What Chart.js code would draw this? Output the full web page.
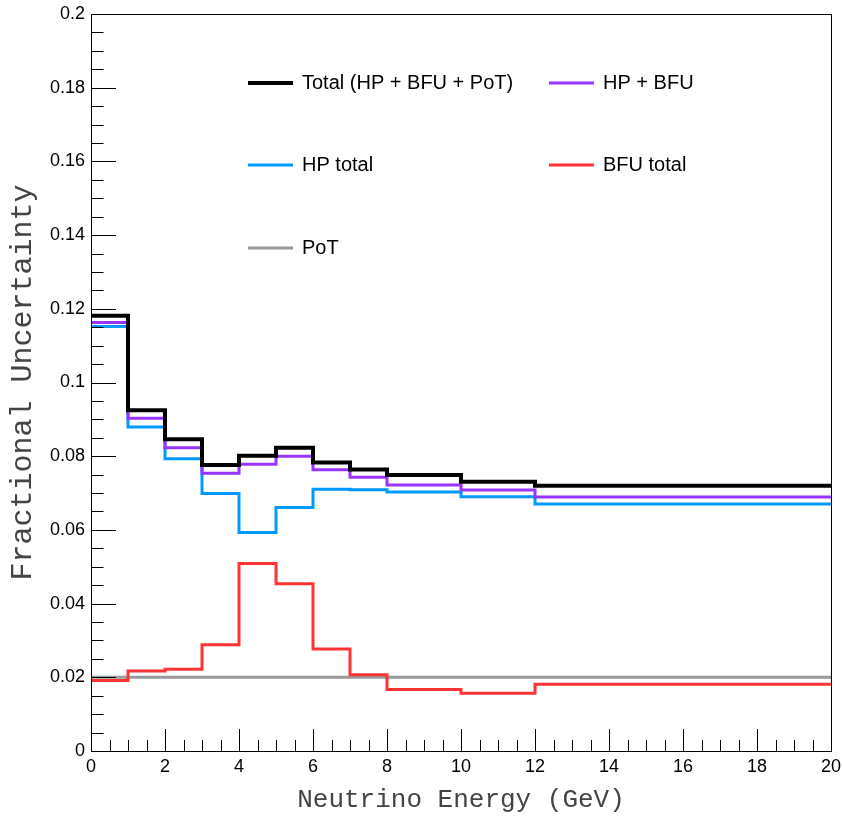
<!DOCTYPE html>
<html>
<head>
<meta charset="utf-8">
<script src="https://cdn.jsdelivr.net/npm/chart.js@4"></script>
<style>
  html, body { margin: 0; padding: 0; background: #fff; }
  #wrap { width: 842px; height: 816px; }
</style>
</head>
<body>
<div id="wrap"><canvas id="c" width="842" height="816"></canvas></div>
<script>
// Bin edges in GeV (last bin is 12-20 GeV)
const binEdges = [0, 1, 2, 3, 4, 5, 6, 7, 8, 10, 12, 20];

// Fractional uncertainty per bin
const totalUnc = [0.1181, 0.0925, 0.0846, 0.0776, 0.0801, 0.0823, 0.0783, 0.0764, 0.0749, 0.0731, 0.0720];
const hpBfuUnc = [0.1163, 0.0903, 0.0823, 0.0754, 0.0778, 0.0800, 0.0763, 0.0743, 0.0722, 0.0708, 0.0689];
const hpUnc    = [0.1152, 0.0879, 0.0793, 0.0699, 0.0593, 0.0661, 0.0710, 0.0709, 0.0703, 0.0690, 0.0670];
const bfuUnc   = [0.0191, 0.0217, 0.0222, 0.0288, 0.0509, 0.0454, 0.0277, 0.0207, 0.0167, 0.0157, 0.0181];
const potUnc   = [0.0200, 0.0200, 0.0200, 0.0200, 0.0200, 0.0200, 0.0200, 0.0200, 0.0200, 0.0200, 0.0200];

// Axis tick labels
const xTicks = [0, 2, 4, 6, 8, 10, 12, 14, 16, 18, 20];
const yTicks = [0, 0.02, 0.04, 0.06, 0.08, 0.1, 0.12, 0.14, 0.16, 0.18, 0.2];

// Histogram outline: each bin's value held from its left edge to the next edge
function histPoints(vals) {
  return binEdges.map((e, i) => ({ x: e, y: vals[Math.min(i, vals.length - 1)] }));
}

function series(label, vals, color, width) {
  return {
    label: label,
    data: histPoints(vals),
    borderColor: color,
    backgroundColor: color,
    borderWidth: width,
    stepped: true,
    pointRadius: 0,
    fill: false,
    borderJoinStyle: 'miter',
    borderCapStyle: 'butt'
  };
}

const SANS = "'Liberation Sans', Arial, Helvetica, sans-serif";
const MONO = "'Liberation Mono', 'Courier New', monospace";

// Frame around the plot plus inward-pointing major/minor ticks
const framePlugin = {
  id: 'frameTicks',
  afterDatasetsDraw(chart) {
    const { ctx, chartArea: a, scales: { x, y } } = chart;
    ctx.save();
    ctx.strokeStyle = '#000';
    ctx.lineWidth = 1;
    ctx.strokeRect(Math.round(a.left) + 0.5, Math.round(a.top) + 0.5,
                   Math.round(a.right - a.left), Math.round(a.bottom - a.top));
    ctx.beginPath();
    // x axis: major ticks at labels, 3 minor ticks between
    for (let i = 0; i < xTicks.length; i++) {
      const px = Math.round(x.getPixelForValue(xTicks[i])) + 0.5;
      ctx.moveTo(px, a.bottom); ctx.lineTo(px, a.bottom - 22);
      if (i < xTicks.length - 1) {
        const step = (xTicks[i + 1] - xTicks[i]) / 4;
        for (let k = 1; k < 4; k++) {
          const mx = Math.round(x.getPixelForValue(xTicks[i] + k * step)) + 0.5;
          ctx.moveTo(mx, a.bottom); ctx.lineTo(mx, a.bottom - 11);
        }
      }
    }
    // y axis
    for (let i = 0; i < yTicks.length; i++) {
      const py = Math.round(y.getPixelForValue(yTicks[i])) + 0.5;
      ctx.moveTo(a.left, py); ctx.lineTo(a.left + 25, py);
      if (i < yTicks.length - 1) {
        const step = (yTicks[i + 1] - yTicks[i]) / 4;
        for (let k = 1; k < 4; k++) {
          const my = Math.round(y.getPixelForValue(yTicks[i] + k * step)) + 0.5;
          ctx.moveTo(a.left, my); ctx.lineTo(a.left + 12.5, my);
        }
      }
    }
    ctx.stroke();
    ctx.restore();
  }
};

// Two-column legend drawn inside the plot
const legendPlugin = {
  id: 'insideLegend',
  afterDraw(chart) {
    const { ctx } = chart;
    const slots = [
      [248, 83], [549, 83],
      [248, 165], [549, 165],
      [248, 248]
    ];
    ctx.save();
    ctx.font = '20px ' + SANS;
    ctx.textBaseline = 'middle';
    ctx.textAlign = 'left';
    chart.data.datasets.forEach((ds, i) => {
      const [lx, ly] = slots[i];
      ctx.strokeStyle = ds.borderColor;
      ctx.lineWidth = ds.borderWidth;
      ctx.beginPath();
      ctx.moveTo(lx, ly); ctx.lineTo(lx + 45, ly);
      ctx.stroke();
      ctx.fillStyle = '#000';
      ctx.fillText(ds.label, lx + 54, ly);
    });
    ctx.restore();
  }
};

new Chart(document.getElementById('c'), {
  type: 'line',
  data: {
    datasets: [
      series('Total (HP + BFU + PoT)', totalUnc, '#000000', 4),
      series('HP + BFU', hpBfuUnc, '#9933ff', 3),
      series('HP total', hpUnc, '#0099ff', 3),
      series('BFU total', bfuUnc, '#ff3333', 3),
      series('PoT', potUnc, '#999999', 3)
    ]
  },
  options: {
    responsive: false,
    animation: false,
    devicePixelRatio: 1,
    layout: { padding: { left: 0, right: 11, top: 14, bottom: 0 } },
    plugins: { legend: { display: false }, tooltip: { enabled: false } },
    scales: {
      x: {
        type: 'linear',
        min: 0, max: 20,
        afterBuildTicks(s) { s.ticks = xTicks.map(v => ({ value: v })); },
        afterFit(s) { s.height = 65; s.paddingLeft = 0; s.paddingRight = 0; },
        grid: { display: false, drawTicks: false },
        border: { display: false },
        ticks: {
          padding: 5,
          maxRotation: 0,
          autoSkip: false,
          color: '#000',
          font: { family: SANS, size: 18 },
          callback: v => String(v)
        },
        title: {
          display: true,
          text: 'Neutrino Energy (GeV)',
          color: '#444',
          font: { family: MONO, size: 26 },
          padding: { top: 0, bottom: 0 }
        }
      },
      y: {
        type: 'linear',
        min: 0, max: 0.2,
        afterBuildTicks(s) { s.ticks = yTicks.map(v => ({ value: v })); },
        afterFit(s) { s.width = 91; s.paddingTop = 0; s.paddingBottom = 0; },
        grid: { display: false, drawTicks: false },
        border: { display: false },
        ticks: {
          padding: 6,
          autoSkip: false,
          color: '#000',
          font: { family: SANS, size: 18 },
          callback: v => (v === 0 ? '0' : String(parseFloat(v.toFixed(2))))
        },
        title: {
          display: true,
          text: 'Fractional Uncertainty',
          color: '#444',
          font: { family: MONO, size: 30 },
          padding: { top: 5, bottom: 0 }
        }
      }
    }
  },
  plugins: [framePlugin, legendPlugin]
});
</script>
</body>
</html>
